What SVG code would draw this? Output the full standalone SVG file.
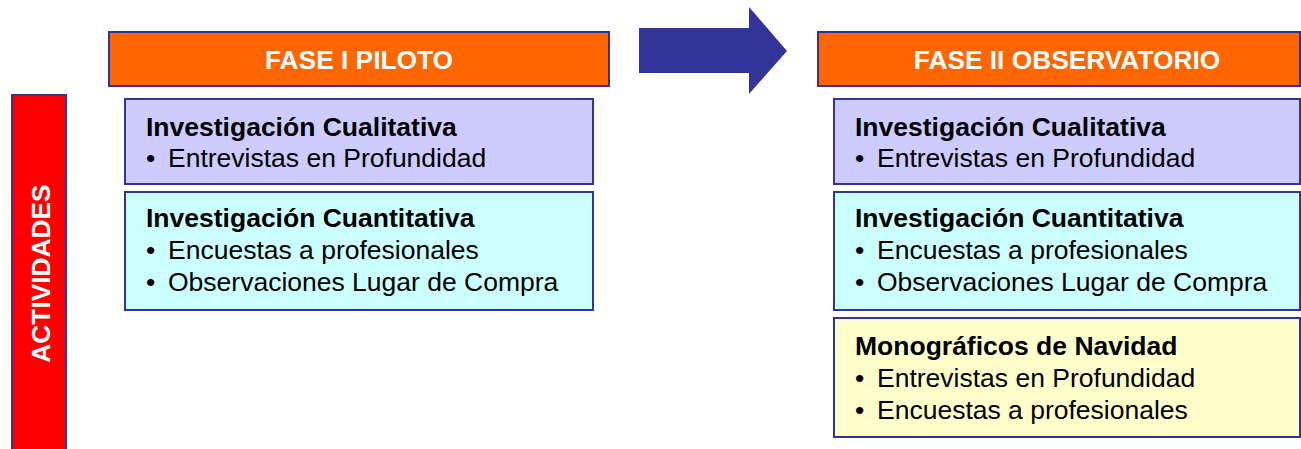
<svg xmlns="http://www.w3.org/2000/svg" width="1301" height="449" viewBox="0 0 1301 449">
<style>
.hdr{fill:#FF6600;stroke:#333399;stroke-width:2}
.bx{stroke:#333399;stroke-width:2}
.lav{fill:#CCCCFF}.cy{fill:#CCFFFF}.yl{fill:#FFFFCC}
.ht{font-family:"Liberation Sans",Arial,sans-serif;font-weight:bold;font-size:26.3px;fill:#FFFFFF;text-anchor:middle}
.tt{font-family:"Liberation Sans",Arial,sans-serif;font-weight:bold;font-size:26.5px;fill:#000}
.it{font-family:"Liberation Sans",Arial,sans-serif;font-size:26.5px;fill:#000}
</style>
<rect width="1301" height="449" fill="#FFFFFF"/>
<g id="actividades">
<rect x="12" y="95" width="54" height="360" fill="#FF0000" stroke="#333399" stroke-width="2"/>
<text class="ht" transform="translate(50,273.5) rotate(-90)">ACTIVIDADES</text>
</g>
<g id="fase1">
<rect class="hdr" x="109" y="32" width="500" height="54"/>
<text class="ht" x="359" y="69">FASE I PILOTO</text>
</g>
<g id="connectors">
<polygon points="639,28 749,28 749,7 787,51 749,94 749,73 639,73" fill="#333399"/>
</g>
<g id="fase2">
<rect class="hdr" x="818" y="32" width="482" height="54"/>
<text class="ht" x="1067" y="69">FASE II OBSERVATORIO</text>
</g>
<g id="f1-cual">
<rect class="bx lav" x="125" y="99" width="468" height="85"/>
<text class="tt" x="146" y="136">Investigación Cualitativa</text>
<text class="it" y="167"><tspan x="146">•</tspan><tspan x="168">Entrevistas en Profundidad</tspan></text>
</g>
<g id="f1-cuant">
<rect class="bx cy" x="125" y="192" width="468" height="118"/>
<text class="tt" x="146" y="227">Investigación Cuantitativa</text>
<text class="it" y="259"><tspan x="146">•</tspan><tspan x="168">Encuestas a profesionales</tspan></text>
<text class="it" y="291"><tspan x="146">•</tspan><tspan x="168">Observaciones Lugar de Compra</tspan></text>
</g>
<g id="f2-cual">
<rect class="bx lav" x="834" y="99" width="466" height="85"/>
<text class="tt" x="855" y="136">Investigación Cualitativa</text>
<text class="it" y="167"><tspan x="855">•</tspan><tspan x="877">Entrevistas en Profundidad</tspan></text>
</g>
<g id="f2-cuant">
<rect class="bx cy" x="834" y="192" width="466" height="118"/>
<text class="tt" x="855" y="227">Investigación Cuantitativa</text>
<text class="it" y="259"><tspan x="855">•</tspan><tspan x="877">Encuestas a profesionales</tspan></text>
<text class="it" y="291"><tspan x="855">•</tspan><tspan x="877">Observaciones Lugar de Compra</tspan></text>
</g>
<g id="f2-mono">
<rect class="bx yl" x="834" y="318" width="466" height="119"/>
<text class="tt" x="855" y="355">Monográficos de Navidad</text>
<text class="it" y="387"><tspan x="855">•</tspan><tspan x="877">Entrevistas en Profundidad</tspan></text>
<text class="it" y="419"><tspan x="855">•</tspan><tspan x="877">Encuestas a profesionales</tspan></text>
</g>
</svg>
